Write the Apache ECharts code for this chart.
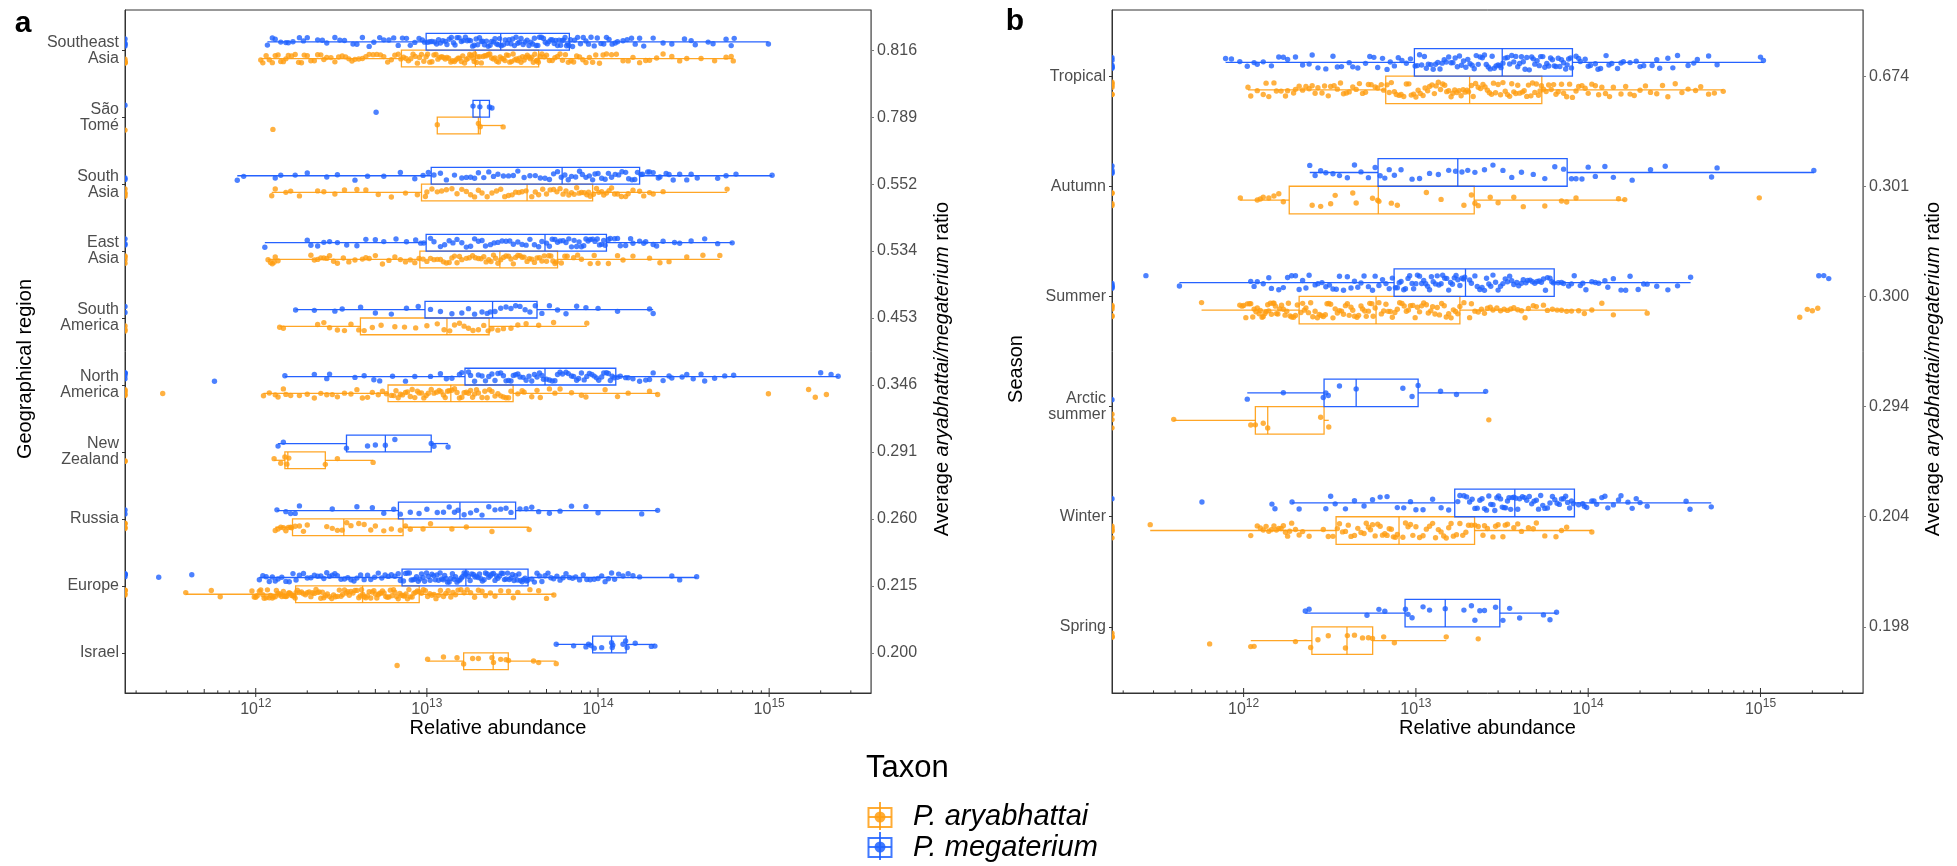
<!DOCTYPE html>
<html><head><meta charset="utf-8">
<script src="https://cdn.jsdelivr.net/npm/echarts@6/dist/echarts.min.js"></script>
<style>html,body{margin:0;padding:0;background:#fff}#c{width:1957px;height:866px}</style>
</head><body><div id="c"></div>
<script>
// ---------- DATA (abundance values in units of 10^12) ----------
const UNIT = 1e12;
const regions = ['Southeast\nAsia','São\nTomé','South\nAsia','East\nAsia','South\nAmerica','North\nAmerica','New\nZealand','Russia','Europe','Israel'];
const regionRatios = ['0.816','0.789','0.552','0.534','0.453','0.346','0.291','0.260','0.215','0.200'];
const seasons = ['Tropical','Autumn','Summer','Arctic\nsummer','Winter','Spring'];
const seasonRatios = ['0.674','0.301','0.300','0.294','0.204','0.198'];
const taxa = ['P. aryabhattai','P. megaterium'];
const xTickExponents = [12,13,14,15];

// box statistics: [lower whisker, Q1, median, Q3, upper whisker]
const regionBoxMeg = [[1.17,9.9,27,68,990],[18.6,18.6,20.4,23.2,24],[0.78,10.6,61.7,175,1040],[1.13,9.9,49,112,608],[1.71,9.75,24.2,44,210],[1.48,16.7,49,127,2530],[1.35,3.39,5.72,10.6,13.3],[1.33,6.82,15.6,33,223],[1.05,7.16,16.9,39,377],[57,93,120,146,215]];
const regionBoxAry = [[1.07,7.1,19.2,45,617],[11.5,11.5,20,20.5,27.9],[1.24,9.3,38.5,93,568],[1.18,9.1,26.7,58,515],[1.38,4.09,13.1,23.1,86],[1.11,5.93,13.8,31.9,223],[1.28,1.48,1.54,2.55,4.85],[1.30,1.64,3.27,7.26,39.6],[0.39,1.71,4.21,9.02,55.2],[10.1,16.4,24.4,29.9,57]];
const seasonBoxMeg = [[0.786,9.8,31.7,81,1040],[2.42,6.03,17.5,75.5,2040],[0.424,7.47,19.4,63.5,393],[1.05,2.93,4.5,10.3,25.4],[1.91,16.8,37.5,83.2,518],[2.28,8.65,14.8,30.7,65.5]];
const seasonBoxAry = [[1.06,6.68,20.5,53.8,608],[0.957,1.84,6.05,21.8,163],[0.57,2.10,5.87,18,220],[0.393,1.17,1.38,2.93,3.12],[0.287,3.44,7.98,21.9,105],[1.10,2.49,3.98,5.61,15.0]];

// number of samples with zero abundance (drawn on the left panel edge)
const regionZeroMeg = [4,1,2,3,2,5,0,2,5,0];
const regionZeroAry = [5,1,4,4,3,5,2,4,5,0];
const seasonZeroMeg = [6,4,5,1,1,0];
const seasonZeroAry = [6,4,5,3,5,4];

// individual samples, panel a
const seAsiaMeg = [1.17,1.3,1.4,1.5,1.65,1.8,2.0,2.3,2.6,2.9,3.3,3.7,4.2,4.6,5.3,6.0,6.8,7.6,8.5,9.4,10.1,10.7,11.4,12.0,12.8,13.5,14.3,15.0,15.9,16.8,17.6,18.5,19.4,20.3,21.2,22.3,23.4,24.5,25.6,26.6,28,29.5,31,32.5,34,35.5,37.5,39.5,41.5,43.5,45.5,48,50.5,53,55.5,58,60.5,63,65.5,67.5,71,76,82,88,95,104,112,121,130,148,165,185,240,320,370,440,560,600,625,990,
  1.25,1.55,1.9,2.45,3.1,3.9,4.9,5.6,6.4,7.2,8.0,9.0,9.7,10.4,11.1,11.7,12.4,13.1,13.9,14.6,15.4,16.3,17.2,18,18.9,19.8,20.8,21.7,22.8,23.9,25,26.1,27.2,28.7,30.2,31.7,33.2,34.7,36.5,38.5,40.5,42.5,44.5,46.7,49.2,51.7,54.2,56.7,59.2,61.7,64.2,66.5,69,73,79,85,91,99,108,116,126,140,157,175,210,270,350,470];
const seAsiaAry = [1.07,1.15,1.25,1.35,1.45,1.55,1.7,1.85,2.0,2.2,2.4,2.6,2.9,3.2,3.5,3.8,4.2,4.6,5.1,5.6,6.2,6.8,7.3,7.8,8.3,8.8,9.3,9.9,10.4,11,11.6,12.2,12.8,13.4,14.1,14.8,15.5,16.2,17,17.8,18.6,19.0,19.8,20.8,21.8,22.8,23.9,25,26.2,27.4,28.6,29.9,31.2,32.6,34,35.5,37,38.6,40.2,41.9,43.6,44.8,47,50,54,58,62,67,72,78,85,93,102,112,128,150,175,200,240,300,330,600,617,
  1.1,1.2,1.3,1.4,1.5,1.62,1.78,1.92,2.1,2.3,2.5,2.75,3.05,3.35,3.65,4.0,4.4,4.85,5.35,5.9,6.5,7.05,7.55,8.05,8.55,9.05,9.6,10.1,10.7,11.3,11.9,12.5,13.1,13.8,14.5,15.2,15.9,16.6,17.4,18.2,18.9,19.5,20.3,21.3,22.3,23.3,24.5,25.6,26.8,28,29.2,30.5,31.9,33.3,34.7,36.2,37.8,39.4,41,42.7,44.2,45.8,48.5,52,56,60,64.5,69.5,75,81.5,89,97,107,120,140,160,190,220,270,400,480,560];
const saoTomeMeg = [5.05,18.6,20.4,23.2,24.0];
const saoTomeAry = [1.26,11.5,20.0,20.5,27.9];
const southAsiaMeg = [0.78,0.85,1.3,1.4,1.7,2.0,2.6,3.0,3.8,4.5,5.6,7.0,8.5,9.5,11,13,16,18,20,23,26,30,34,40,46,52,58,64,70,78,85,93,100,110,120,132,145,158,170,182,195,210,225,250,275,300,330,380,560,640,1040,
  10.2,12,14.5,17,19,21.5,24.5,28,32,37,43,49,55,61,67,74,81,89,96,105,115,126,138,151,164,178,200,230,260,350,500];
const southAsiaAry = [1.24,1.3,1.5,1.6,1.8,2.3,2.5,2.9,3.3,3.9,4.4,5.2,6.2,7.5,8.8,10,11.5,13,15,17,19,21,24,27,30,33,36,41,45,50,55,60,65,70,75,80,86,90,98,105,112,120,130,145,160,185,210,240,568,
  9.8,10.7,12.2,14,16,18,20,22.5,25.5,28.5,31.5,34.5,38,43,47.5,52.5,57.5,62.5,67.5,72.5,77.5,83,88,94,101,108,116,125,137,150,175,200];
const eastAsiaMeg = [1.13,2.0,2.1,2.3,2.5,2.7,3.0,3.4,3.9,4.4,5.0,5.6,6.6,7.6,8.6,9.6,10.5,12,13.5,15,17,19,21,23.5,26,29,32,36,40,45,52,56,60,65,70,75,80,85,90,96,102,108,118,125,135,145,160,175,190,210,240,300,350,420,500,608,
  9.2,11,12.7,14.2,16,18,20,22,24.7,27.5,30.5,34,38,42.5,47,50,54,58,62.5,67.5,72.5,77.5,82.5,87.5,93,99,105,110,115,130,155,185,220,280];
const eastAsiaAry = [1.18,1.25,1.3,1.35,2.1,2.3,2.5,2.7,3.0,3.5,4.2,4.6,5.5,6.5,7.5,8.5,9.5,10.5,11.5,12.5,13.5,14.5,15.5,17,18.5,20,21.5,23,24.5,26,28,30,32,34,36,38.5,41,44,47,50,53,56,61,66,72,80,90,100,115,130,160,200,260,330,410,515,
  1.22,1.28,2.2,2.4,2.6,2.85,3.25,3.8,4.4,5.0,6.0,7.0,8.0,9.0,10,11,12,13,14,15,16,17.7,19.2,20.7,22.2,23.7,25.2,27,29,31,33,35,37,39.7,42.5,45.5,48.5,51.5,54.5,57,64,76,95,140,230];
const southAmMeg = [1.71,2.2,2.9,3.2,4.1,5.0,6.2,7.6,8.9,10.5,12,14,16,17.5,19,21,22.5,23.5,25,27,29,31,33,35,37.5,40,43,47,52,58,65,75,85,100,130,200,210];
const southAmAry = [1.38,1.45,2.3,2.5,2.7,3.0,3.3,3.6,4.0,4.3,4.8,5.4,6.5,7.4,8.6,10,11.5,12.6,13.6,14.5,15.5,16.5,17.5,18.6,20,21.5,22.8,24,26,28,31,34,38,45,55,86];
const northAmMeg = [0.574,1.48,2.2,2.6,2.7,3.8,4.3,4.9,5.3,6.3,7.5,8.5,10.5,12,14,15.5,17.5,19,21,23,25,27,29,31,33,35,38,41,44,47,52,56,60,65,70,75,80,86,92,98,105,112,118,124,135,145,160,175,190,210,240,270,310,360,420,480,620,2000,2300,2530,
  13,16,18,20,22,24,26,28,30,32,34,36.5,39.5,42.5,45.5,48,50,54,58,62,67,72,77,83,89,95,101,108,115,121,130,150,200,260,330,400,550];
const northAmAry = [0.286,1.11,1.3,1.35,1.45,1.6,2.0,2.4,2.6,2.8,3.3,3.6,4.2,4.8,5.5,6.2,6.6,7.0,7.5,8.0,8.5,9.0,9.6,10.2,11,11.8,12.5,13.2,14.5,15.5,16.5,17.5,18.5,19.5,21,22.5,24,26,28,30,34,37,41,46,52,60,70,85,110,150,200,223,990,1700,1860,2160,
  1.2,1.5,1.8,2.2,3.0,3.9,4.5,5.2,5.8,6.4,6.8,7.2,7.7,8.2,8.8,9.3,9.9,10.6,11.4,12.1,12.8,13.5,14,15,16,17,18,19,20,21.8,23.2,25,27,29,31,36,44,56,80,130];
const newZealandMeg = [1.35,1.45,3.39,4.5,5.0,5.72,6.5,10.6,11,13.3];
const newZealandAry = [1.28,1.4,1.48,1.52,1.56,2.55,3.0,4.85];
const russiaMeg = [1.33,1.5,1.6,1.7,1.8,2.8,3.9,4.8,5.6,6.4,7.0,8.0,9.0,10,11.5,12.5,13.5,14.5,15.2,16.5,18,19.5,21,23,25,27,29,31,35,38,41,45,52,60,70,85,100,180,223];
const russiaAry = [1.30,1.35,1.4,1.45,1.5,1.55,1.6,1.62,1.7,1.8,1.9,2.0,2.6,2.8,3.0,3.2,3.4,3.6,4.0,4.3,4.7,5.0,5.6,6.2,7.0,7.5,8.0,9.5,10.5,14,17,24,39.6];
const europeMeg = [0.271,0.423,1.05,1.15,1.25,1.35,1.5,1.65,1.8,2.0,2.2,2.4,2.6,2.8,3.0,3.3,3.6,3.9,4.3,4.7,5.2,5.7,6.2,6.8,7.3,7.7,8.1,8.5,8.9,9.3,9.7,10.2,10.7,11.2,11.7,12.2,12.7,13.2,13.8,14.4,15,15.6,16.2,16.8,17.5,18.3,19.1,19.9,20.7,21.6,22.5,23.5,24.5,25.5,26.6,27.8,29,30.3,31.6,33,34.5,36,37.5,38.8,41,44,47,51,55,60,65,71,78,86,95,105,115,125,140,160,175,270,300,377,
  1.1,1.2,1.3,1.42,1.57,1.72,1.9,2.1,2.3,2.5,2.7,2.9,3.15,3.45,3.75,4.1,4.5,4.95,5.45,5.95,6.5,7.0,7.5,7.9,8.3,8.7,9.1,9.5,9.95,10.45,10.95,11.45,11.95,12.45,12.95,13.5,14.1,14.7,15.3,15.9,16.5,17.1,17.9,18.7,19.5,20.3,21.1,22,23,24,25,26,27.2,28.4,29.6,31,32.3,33.7,35.2,36.7,38.2,42.5,45.5,49,53,57.5,62.5,68,74,82,90,100,110,120,132,150];
const europeAry = [0.39,0.55,0.62,0.95,1.0,1.05,1.1,1.15,1.2,1.25,1.3,1.35,1.4,1.45,1.5,1.55,1.6,1.65,1.7,1.75,1.85,1.95,2.05,2.15,2.25,2.35,2.45,2.55,2.7,2.85,3.0,3.15,3.3,3.45,3.6,3.8,4.0,4.15,4.3,4.5,4.7,4.9,5.1,5.3,5.5,5.75,6.0,6.25,6.5,6.8,7.1,7.4,7.7,8.0,8.4,8.8,9.3,9.8,10.4,11,11.7,12.5,13.3,14.2,15.2,16.5,18,20,22,25,30,34,45,50,55.2,
  0.98,1.02,1.07,1.12,1.17,1.22,1.27,1.32,1.37,1.42,1.47,1.52,1.57,1.62,1.67,1.72,1.8,1.9,2.0,2.1,2.2,2.3,2.4,2.5,2.62,2.78,2.92,3.08,3.22,3.38,3.52,3.7,3.9,4.08,4.22,4.4,4.6,4.8,5.0,5.2,5.4,5.62,5.88,6.12,6.38,6.65,6.95,7.25,7.55,7.85,8.2,8.6,9.0,9.55,10.1,10.7,11.3,12,12.9,13.8,14.7,15.8,17.2,19,21,23.5,27,32,40];
const israelMeg = [57,72,85,88,91,95,105,120,121,122,140,145,148,165,205,215];
const israelAry = [6.7,10.1,12.5,15,16.4,18.5,20,24,24.5,27,29,30,42,45,57];

// individual samples, panel b
const tropicalMeg = [0.786,0.85,0.95,1.05,1.2,1.3,1.45,1.6,1.8,2.0,2.2,2.4,2.7,3.0,3.3,3.7,4.1,4.6,5.1,5.7,6.4,7.1,7.9,8.8,10.2,10.8,11.5,12.2,13,13.8,14.6,15.5,16.4,17.4,18.4,19.5,20.6,21.8,23,24.3,25.6,27,28.5,30,31.2,33,35,37,39,41,43,45.5,48,50.5,53,56,59,62,65,68.5,72,75.5,79,85,90,96,103,110,118,127,137,148,160,175,190,210,235,260,290,330,380,430,500,560,1000,1040,
  1.15,1.7,2.5,3.5,4.3,5.4,6.0,6.8,7.5,8.3,9.3,9.9,10.5,11.2,11.8,12.6,13.4,14.2,15,16,16.9,17.9,18.9,20,21.2,22.4,23.6,25,26.3,27.7,29.2,30.6,32,34,36,38,40,42,44,47,49,52,54.5,57.5,60.5,63.5,67,70,74,77,80,88,100,114,132,155,200,250,310,410];
const tropicalAry = [1.06,1.2,1.3,1.4,1.5,1.65,1.8,1.95,2.1,2.3,2.5,2.7,2.95,3.2,3.5,3.8,4.1,4.5,4.9,5.3,5.8,6.3,7.0,7.5,8.0,8.5,9.1,9.7,10.3,11,11.7,12.4,13.1,13.9,14.7,15.5,16.4,17.3,18.3,19.3,20.2,21.5,23,24.5,26,27.5,29,31,33,35,37,39,41.5,44,46.5,49,51.5,53.5,57,61,65,70,75,81,88,96,105,115,126,140,155,175,200,230,270,320,380,450,540,608,
  1.1,1.35,1.55,1.75,2.0,2.2,2.4,2.6,2.85,3.1,3.35,3.65,3.95,4.3,4.7,5.1,5.5,6.0,6.5,6.8,7.2,7.7,8.2,8.8,9.4,10,10.6,11.3,12,12.8,13.5,14.3,15.1,16,16.8,17.8,18.8,19.8,21,22.2,23.7,25.2,26.7,28.2,30,32,34,36,38,40,42.5,45,47.5,50,52.5,55,59,63,67,72,78,85,92,100,110,120,133,165,185,215,250,290,350,420,500];
const autumnMeg = [2.42,2.6,2.8,3.0,3.3,3.6,4.0,4.4,4.8,5.3,5.8,6.2,6.6,7.0,7.5,8.2,9.5,10.5,12,13.5,15.5,17,18.5,20,22,25,28,32,36,41,48,56,64,72,80,85,92,100,110,125,140,180,230,280,520,560,2040];
const autumnAry = [0.957,1.2,1.25,1.3,1.4,1.5,1.6,1.7,2.5,2.8,3.2,3.4,4.3,4.5,5.6,6.0,6.1,7.2,7.8,11.5,14,19,21,22,23,27,30,37,42,56,70,75,85,150,163,984];
const summerMeg = [0.271,0.424,1.1,1.2,1.3,1.45,1.6,1.8,2.0,2.2,2.4,2.7,3.0,3.3,3.6,4.0,4.4,4.8,5.3,5.8,6.4,7.0,7.8,8.2,8.7,9.2,9.7,10.2,10.8,11.4,12,12.6,13.3,14,14.7,15.5,16.3,17.1,18,18.9,20.5,22,23.5,25,26.5,28,30,32,34,36,38.5,41,43.5,46,49,52,55,58,61.5,67,72,77,83,90,97,105,115,125,140,155,175,195,220,250,290,330,393,2180,2330,2490,
  1.15,1.4,1.7,1.9,2.1,2.3,2.6,2.85,3.15,3.45,3.8,4.2,4.6,5.0,5.6,6.1,6.7,7.3,7.6,8.0,8.5,9.0,9.5,10,10.5,11.1,11.7,12.3,13,13.6,14.3,15.1,15.9,16.7,17.5,18.5,19.2,21,22.7,24.2,25.7,27.2,29,31,33,35,37,39.5,42,44.5,47.5,50.5,53.5,56.5,60,63,70,80,93,110,130,165,210];
const summerAry = [0.57,0.95,1.0,1.05,1.1,1.15,1.2,1.25,1.3,1.35,1.4,1.45,1.5,1.55,1.62,1.7,1.78,1.86,1.95,2.05,2.2,2.3,2.45,2.6,2.75,2.9,3.05,3.2,3.4,3.6,3.8,4.0,4.2,4.4,4.65,4.9,5.15,5.4,5.65,6.1,6.5,6.9,7.3,7.8,8.3,8.8,9.3,9.9,10.5,11.1,11.8,12.5,13.3,14.1,15,16,17,19,20.5,22,24,26,28,31,34,37,41,45,50,55,62,70,80,95,120,220,1690,1870,2000,2150,
  0.98,1.03,1.08,1.13,1.18,1.23,1.28,1.33,1.38,1.43,1.48,1.53,1.58,1.66,1.74,1.82,1.9,2.0,2.15,2.25,2.38,2.52,2.68,2.82,2.98,3.12,3.3,3.5,3.7,3.9,4.1,4.3,4.55,4.8,5.05,5.3,5.55,5.8,6.3,6.7,7.1,7.55,8.05,8.55,9.05,9.6,10.2,10.8,11.5,12.2,12.9,13.7,14.6,15.5,16.5,17.5,18,21,23,25,27,29.5,32.5,35.5,39,43,48,58,66,75,88,105,140];
const arcticMeg = [1.05,1.7,2.9,3.0,3.1,3.6,4.5,8.4,9.5,10.3,13.9,17.2,25.4];
const arcticAry = [0.393,1.1,1.17,1.3,1.38,2.8,3.12,26.5];
const winterMeg = [0.573,1.46,1.52,1.91,2.1,3.0,3.2,3.4,3.9,4.4,5.0,5.6,6.2,6.8,7.8,8.5,9.3,10,11,12.5,14,15.5,17.5,19,20.5,22,23.5,25,26.5,28,29.5,31,32.5,34,35.5,37,39,41.5,44,47,50,53,56,60,64,68,72,76,80,88,93,98,105,112,120,130,140,155,170,180,190,220,370,390,518,
  18,19.7,21.2,22.7,24.2,25.7,27.2,28.7,30.2,31.7,33.2,34.7,36.2,38,40,42.7,45.5,48.5,51.5,54.5,58,62,66,70,74,78,82,95,108,125,150,200];
const winterAry = [0.287,1.1,1.2,1.25,1.3,1.4,1.45,1.5,1.6,1.7,1.8,1.9,2.0,2.2,2.4,2.9,3.1,3.3,3.6,3.9,4.2,4.6,5.0,5.3,5.6,6.0,6.4,6.8,7.2,7.6,8.4,9.0,9.6,10.5,11.5,12.5,13.5,14.5,15.5,16.5,18,19.5,21,23,24.5,26,28,30,32,34,37,41,45,50,56,70,75,105,
  1.35,1.55,1.65,1.75,1.85,2.1,3.5,3.75,4.05,4.4,4.8,5.15,5.45,5.8,6.2,6.6,7.0,7.4,7.8,8.7,9.3,10,11,12,13,14,15,16,17.2,18.7,20.2,22,25,29,33,39,48,65];
const springMeg = [2.28,2.4,5.2,6.1,6.6,8.7,9.0,9.5,11,12,14.8,19,21,22,23.5,25,29,32,35,40,55,60,65.5];
const springAry = [0.635,1.10,1.15,2.0,2.45,2.7,3.1,3.9,4.0,4.4,4.9,5.3,5.6,6.5,7.5,15.0,23];

const regionPtsMeg = [seAsiaMeg,saoTomeMeg,southAsiaMeg,eastAsiaMeg,southAmMeg,northAmMeg,newZealandMeg,russiaMeg,europeMeg,israelMeg];
const regionPtsAry = [seAsiaAry,saoTomeAry,southAsiaAry,eastAsiaAry,southAmAry,northAmAry,newZealandAry,russiaAry,europeAry,israelAry];
const seasonPtsMeg = [tropicalMeg,autumnMeg,summerMeg,arcticMeg,winterMeg,springMeg];
const seasonPtsAry = [tropicalAry,autumnAry,summerAry,arcticAry,winterAry,springAry];

// ---------- STYLE / LAYOUT ----------
const FONT = '"Liberation Sans", Arial, Helvetica, sans-serif';
const COL_ARY = '#FF9D12';
const COL_MEG = '#1F62FF';
const BOX_ARY = 'rgba(255,150,0,0.85)';
const BOX_MEG = 'rgba(25,90,255,0.95)';
const XMIN = 1.722e11, XMAX = 3.936e15;
const DODGE = 0.125, BOX_HALF = 0.125, JIT = 0.14;
const TITLE_SHIFT = 35; // vertical titles sit slightly below the panel centre

function jitter(k) { const s = Math.sin(k * 127.1 + 311.7) * 43758.5453; return (s - Math.floor(s)) - 0.5; }

function boxRender(color) {
  return function (params, api) {
    const y = api.value(0);
    const lo = api.coord([api.value(1), y]);
    const q1 = api.coord([api.value(2), y]);
    const md = api.coord([api.value(3), y]);
    const q3 = api.coord([api.value(4), y]);
    const hi = api.coord([api.value(5), y]);
    const t = api.coord([api.value(3), y - BOX_HALF])[1];
    const b = api.coord([api.value(3), y + BOX_HALF])[1];
    const st = { stroke: color, lineWidth: 1.3, fill: null };
    return { type: 'group', children: [
      { type: 'line', shape: { x1: lo[0], y1: lo[1], x2: q1[0], y2: q1[1] }, style: st },
      { type: 'line', shape: { x1: q3[0], y1: q3[1], x2: hi[0], y2: hi[1] }, style: st },
      { type: 'rect', shape: { x: q1[0], y: Math.min(t, b), width: q3[0] - q1[0], height: Math.abs(b - t) }, style: st },
      { type: 'line', shape: { x1: md[0], y1: Math.min(t, b), x2: md[0], y2: Math.max(t, b) }, style: st }
    ] };
  };
}

function buildPanel(pi, boxMeg, boxAry, ptsMeg, ptsAry, zeroMeg, zeroAry, ymax) {
  const series = [];
  const mk = (boxes, side, color, name) => ({
    type: 'custom', name: name, xAxisIndex: pi, yAxisIndex: pi * 2, z: 2, silent: true,
    encode: { x: 1, y: 0 },
    renderItem: boxRender(color),
    data: boxes.map((b, i) => [i + 1 + side * DODGE, b[0] * UNIT, b[1] * UNIT, b[2] * UNIT, b[3] * UNIT, b[4] * UNIT])
  });
  series.push(mk(boxAry, 1, BOX_ARY, taxa[0]));
  series.push(mk(boxMeg, -1, BOX_MEG, taxa[1]));
  const pts = (groups, side, color, name, seed) => {
    const data = [];
    groups.forEach((g, r) => g.forEach((v, i) => {
      data.push([v * UNIT, r + 1 + side * DODGE + JIT * jitter(seed + r * 997 + i)]);
    }));
    return { type: 'scatter', name: name, xAxisIndex: pi, yAxisIndex: pi * 2, z: 3, silent: true,
      symbolSize: 5.4, itemStyle: { color: color, opacity: 0.8 }, data: data, large: false };
  };
  series.push(pts(ptsAry, 1, COL_ARY, taxa[0], pi * 50000 + 11));
  series.push(pts(ptsMeg, -1, COL_MEG, taxa[1], pi * 50000 + 23));
  const zeros = (counts, side, color, name, seed) => {
    const data = [];
    counts.forEach((c, r) => { for (let i = 0; i < c; i++) data.push([XMIN, r + 1 + side * DODGE + JIT * jitter(seed + r * 31 + i)]); });
    return { type: 'scatter', name: name, xAxisIndex: pi, yAxisIndex: pi * 2, z: 3, silent: true, clip: false,
      symbol: 'path://M0 0A1 1 0 0 1 0 2Z', symbolSize: [2.7, 5.4], symbolOffset: [1.35, 0],
      itemStyle: { color: color, opacity: 0.85 }, data: data };
  };
  series.push(zeros(zeroAry, 1, COL_ARY, taxa[0], pi * 7000 + 5));
  series.push(zeros(zeroMeg, -1, COL_MEG, taxa[1], pi * 7000 + 9));
  // log tick marks (axis decoration)
  const ticks = [];
  for (let e = 11; e <= 15; e++) for (let m = 1; m <= 9; m++) {
    const v = m * Math.pow(10, e);
    if (v > XMIN * 1.001 && v < XMAX * 0.999) ticks.push([v, m]);
  }
  series.push({ type: 'custom', xAxisIndex: pi, yAxisIndex: pi * 2, z: 5, silent: true, clip: false,
    encode: { x: 0, y: -1 },
    renderItem: function (params, api) {
      const m = api.value(1);
      const p = api.coord([api.value(0), ymax]);
      const up = m === 1 ? 5 : (m === 5 ? 4 : 2.6);
      const ch = [{ type: 'line', shape: { x1: p[0], y1: p[1], x2: p[0], y2: p[1] - up }, style: { stroke: '#333', lineWidth: 1 } }];
      if (m === 1) ch.push({ type: 'line', shape: { x1: p[0], y1: p[1], x2: p[0], y2: p[1] + 4 }, style: { stroke: '#333', lineWidth: 1 } });
      return { type: 'group', children: ch };
    },
    data: ticks });
  return series;
}

const rows = n => Array.from({ length: n }, (_, i) => i + 1);

function yAxes(gi, cats, ratios, ymax, leftName, leftGap, rightGap) {
  const common = { type: 'value', gridIndex: gi, min: 0.4, max: ymax, inverse: true, splitLine: { show: false },
    nameLocation: 'middle', nameMoveOverlap: false };
  return [
    Object.assign({}, common, { position: 'left',
      axisLine: { show: true, lineStyle: { color: '#333', width: 1 } },
      axisTick: { show: true, length: 3, customValues: rows(cats.length), lineStyle: { color: '#333' } },
      axisLabel: { customValues: rows(cats.length), formatter: v => cats[Math.round(v) - 1] || '',
        fontSize: 16, lineHeight: 16, color: '#4d4d4d', fontFamily: FONT, margin: 6 },
      name: leftName, nameGap: leftGap,
      nameTextStyle: { fontSize: 20, color: '#000', fontFamily: FONT, padding: [0, TITLE_SHIFT, 0, 0] } }),
    Object.assign({}, common, { position: 'right',
      axisLine: { show: true, lineStyle: { color: '#7a7a7a', width: 1 } },
      axisTick: { show: true, length: 3, customValues: rows(cats.length), lineStyle: { color: '#7a7a7a' } },
      axisLabel: { customValues: rows(cats.length), formatter: v => ratios[Math.round(v) - 1] || '',
        fontSize: 16, color: '#4d4d4d', fontFamily: FONT, margin: 6 },
      name: '{n|Average }{i|aryabhattai/megaterium}{n| ratio}', nameRotate: 90, nameGap: rightGap,
      nameTextStyle: { fontSize: 20, color: '#000', fontFamily: FONT, padding: [0, TITLE_SHIFT, 0, 0],
        rich: { n: { fontSize: 20, color: '#000', fontFamily: FONT }, i: { fontSize: 20, color: '#000', fontStyle: 'italic', fontFamily: FONT } } } })
  ];
}

function xAxis(gi) {
  return { type: 'log', logBase: 10, gridIndex: gi, min: XMIN, max: XMAX, position: 'bottom',
    axisLine: { show: true, lineStyle: { color: '#333', width: 1 } },
    axisTick: { show: false }, splitLine: { show: false }, minorTick: { show: false },
    axisLabel: { margin: 5, color: '#4d4d4d', fontFamily: FONT, fontSize: 16,
      formatter: function (v) {
        const e = Math.log10(v), r = Math.round(e);
        if (Math.abs(e - r) > 1e-6 || xTickExponents.indexOf(r) < 0) return '';
        return '{b|10}{s|' + r + '}';
      },
      rich: { b: { fontSize: 16, color: '#4d4d4d', fontFamily: FONT, verticalAlign: 'bottom', lineHeight: 20 },
              s: { fontSize: 12, color: '#4d4d4d', fontFamily: FONT, verticalAlign: 'top', lineHeight: 12 } } },
    name: 'Relative abundance', nameLocation: 'middle', nameGap: 25, nameMoveOverlap: false,
    nameTextStyle: { fontSize: 20, color: '#000', fontFamily: FONT } };
}

const chart = echarts.init(document.getElementById('c'), null, { renderer: 'canvas' });

function legendIcon(cx, cy, color) {
  return { type: 'group', children: [
    { type: 'line', shape: { x1: cx, y1: cy - 15, x2: cx, y2: cy + 13 }, style: { stroke: color, lineWidth: 2 } },
    { type: 'rect', shape: { x: cx - 11.5, y: cy - 9, width: 23, height: 19 }, style: { fill: '#fff', stroke: color, lineWidth: 2 } },
    { type: 'line', shape: { x1: cx - 11.5, y1: cy, x2: cx + 11.5, y2: cy }, style: { stroke: color, lineWidth: 2 } },
    { type: 'line', shape: { x1: cx, y1: cy - 9, x2: cx, y2: cy + 10 }, style: { stroke: color, lineWidth: 2 } },
    { type: 'circle', shape: { cx: cx, cy: cy, r: 5.5 }, style: { fill: color } }
  ] };
}

chart.setOption({
  animation: false,
  backgroundColor: '#fff',
  textStyle: { fontFamily: FONT },
  grid: [
    { left: 125, top: 10, width: 746, height: 683, show: true, borderColor: '#333', borderWidth: 1, backgroundColor: 'transparent', outerBoundsMode: 'none', containLabel: false },
    { left: 1112, top: 10, width: 751, height: 683, show: true, borderColor: '#333', borderWidth: 1, backgroundColor: 'transparent', outerBoundsMode: 'none', containLabel: false }
  ],
  xAxis: [xAxis(0), xAxis(1)],
  yAxis: [].concat(
    yAxes(0, regions, regionRatios, 10.6, 'Geographical region', 90, 61),
    yAxes(1, seasons, seasonRatios, 6.6, 'Season', 86, 60)
  ),
  series: [].concat(
    buildPanel(0, regionBoxMeg, regionBoxAry, regionPtsMeg, regionPtsAry, regionZeroMeg, regionZeroAry, 10.6),
    buildPanel(1, seasonBoxMeg, seasonBoxAry, seasonPtsMeg, seasonPtsAry, seasonZeroMeg, seasonZeroAry, 6.6)
  ),
  graphic: [
    { type: 'text', x: 23, y: 24, style: { text: 'a', font: 'bold 30px ' + FONT, fill: '#000', align: 'center', verticalAlign: 'middle' } },
    { type: 'text', x: 1015, y: 22, style: { text: 'b', font: 'bold 30px ' + FONT, fill: '#000', align: 'center', verticalAlign: 'middle' } },
    { type: 'text', x: 866, y: 768, style: { text: 'Taxon', font: '31px ' + FONT, fill: '#000', align: 'left', verticalAlign: 'middle' } },
    legendIcon(880, 817, 'rgba(255,157,18,0.85)'),
    legendIcon(880, 847, 'rgba(31,98,255,0.85)'),
    { type: 'text', x: 913, y: 817, style: { text: taxa[0], font: 'italic 29px ' + FONT, fill: '#000', align: 'left', verticalAlign: 'middle' } },
    { type: 'text', x: 913, y: 848, style: { text: taxa[1], font: 'italic 29px ' + FONT, fill: '#000', align: 'left', verticalAlign: 'middle' } }
  ]
});
</script></body></html>
